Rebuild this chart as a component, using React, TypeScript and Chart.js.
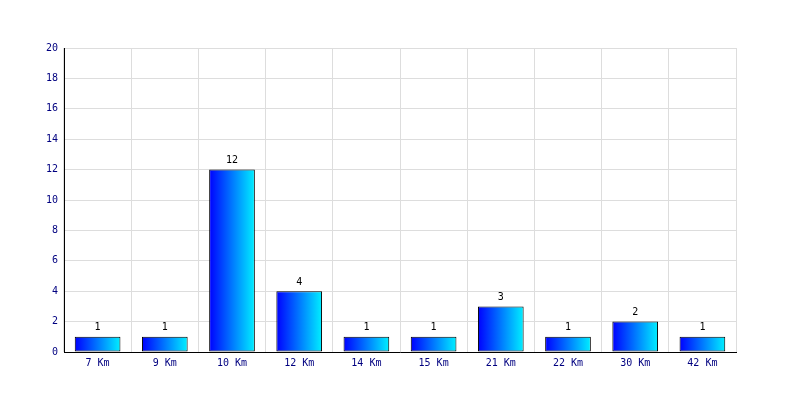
import React, { useEffect, useRef } from "react";
import { Chart, registerables } from "chart.js";

Chart.register(...registerables);

const categories = ["7 Km", "9 Km", "10 Km", "12 Km", "14 Km", "15 Km", "21 Km", "22 Km", "30 Km", "42 Km"];
const counts = [1, 1, 12, 4, 1, 1, 3, 1, 2, 1];
const yMin = 0;
const yMax = 20;
const yStep = 2;

const FONT = "'DejaVu Sans Mono', 'Liberation Mono', monospace";
const BAR_PCT = 0.68;

function barGradient(context: any) {
  const chart = context.chart;
  const xs = chart.scales && chart.scales.x;
  if (!xs || context.dataIndex === undefined || !chart.chartArea) return "#0000ff";
  const cx = xs.getPixelForValue(context.dataIndex);
  const band = xs.width / categories.length;
  const w = band * BAR_PCT;
  const g = chart.ctx.createLinearGradient(cx - w / 2, 0, cx + w / 2, 0);
  g.addColorStop(0, "#0000ff");
  g.addColorStop(1, "#00f0ff");
  return g;
}

const valueLabelPlugin = {
  id: "valueLabels",
  afterDatasetsDraw(chart: any) {
    const ctx = chart.ctx;
    const ds = chart.data.datasets[0];
    ctx.save();
    ctx.font = "10px " + FONT;
    ctx.fillStyle = "#000000";
    ctx.textAlign = "center";
    ctx.textBaseline = "bottom";
    chart.getDatasetMeta(0).data.forEach((el: any, i: number) => {
      ctx.fillText(String(ds.data[i]), el.x, el.y - 4);
    });
    ctx.restore();
  },
};

export default function App() {
  const ref = useRef<HTMLCanvasElement | null>(null);
  useEffect(() => {
    if (!ref.current) return;
    const chart = new Chart(ref.current, {
      type: "bar",
      data: {
        labels: categories,
        datasets: [
          {
            data: counts,
            backgroundColor: barGradient,
            borderColor: "#000000",
            borderWidth: 1,
            borderSkipped: false,
            barPercentage: BAR_PCT,
            categoryPercentage: 1,
          },
        ],
      },
      options: {
        animation: false,
        responsive: false,
        devicePixelRatio: 1,
        layout: { padding: { top: 48, right: 64, left: 0, bottom: 0 } },
        plugins: { legend: { display: false }, tooltip: { enabled: false } },
        scales: {
          x: {
            grid: { color: "#dddddd", offset: true, drawTicks: false },
            border: { color: "#000000", width: 1 },
            ticks: { color: "#000080", font: { family: FONT, size: 10 }, padding: 5, maxRotation: 0 },
            afterFit(scale: any) {
              scale.height = 48;
            },
          },
          y: {
            min: yMin,
            max: yMax,
            grid: { color: "#dddddd", drawTicks: false },
            border: { color: "#000000", width: 1 },
            ticks: { stepSize: yStep, color: "#000080", font: { family: FONT, size: 10 }, padding: 6 },
            afterFit(scale: any) {
              scale.width = 64;
            },
          },
        },
      },
      plugins: [valueLabelPlugin],
    });
    chart.update();
    return () => chart.destroy();
  }, []);
  return (
    <div style={{ position: "fixed", left: 0, top: 0, width: 800, height: 400, background: "#ffffff" }}>
      <canvas ref={ref} width={800} height={400} style={{ width: 800, height: 400 }} />
    </div>
  );
}
